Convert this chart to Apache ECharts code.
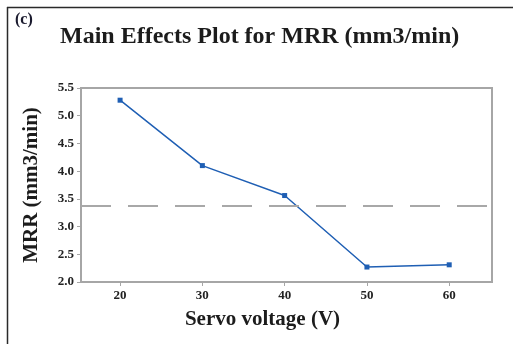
<!DOCTYPE html>
<html>
<head>
<meta charset="utf-8">
<script src="https://cdn.jsdelivr.net/npm/echarts@6/dist/echarts.min.js"></script>
<style>
  html, body { margin: 0; padding: 0; background: #ffffff; }
  #chart { width: 513px; height: 344px; }
</style>
</head>
<body>
<div id="chart"></div>
<script>
// Servo voltage levels and the mean MRR at each level
const voltages = [20, 30, 40, 50, 60];
const mrrMeans = [5.28, 4.10, 3.56, 2.27, 2.31];
// Overall reference (grand mean) line
const referenceMean = 3.38;
// Axis tick values
const xTicks = [20, 30, 40, 50, 60];

const serif = '"Liberation Serif", "DejaVu Serif", serif';
const chart = echarts.init(document.getElementById('chart'));

chart.setOption({
  animation: false,
  backgroundColor: '#ffffff',
  title: {
    text: 'Main Effects Plot for MRR (mm3/min)',
    left: 55,
    top: 20,
    textStyle: { fontFamily: serif, fontWeight: 'bold', fontSize: 24, color: '#1c1c1c' }
  },
  graphic: [
    { type: 'line', shape: { x1: 7, y1: 7.5, x2: 513, y2: 7.5 }, style: { stroke: '#2a2a2a', lineWidth: 1.5 } },
    { type: 'line', shape: { x1: 7.5, y1: 7, x2: 7.5, y2: 344 }, style: { stroke: '#2a2a2a', lineWidth: 1.5 } },
    { type: 'text', left: 15, top: 12, style: { text: '(c)', font: 'bold 16px ' + serif, fill: '#1a1a2e' } }
  ],
  grid: {
    left: 81, right: 21, top: 88, bottom: 62,
    show: true, borderColor: '#a6a6a6', borderWidth: 2, backgroundColor: '#ffffff'
  },
  xAxis: {
    type: 'value',
    min: 15.25,
    max: 65.2,
    name: 'Servo voltage (V)',
    nameLocation: 'middle',
    nameGap: 27,
    nameTextStyle: {
      fontFamily: serif, fontWeight: 'bold', fontSize: 21, color: '#1c1c1c',
      padding: [0, 48, 0, 0]
    },
    axisLine: { show: false },
    axisTick: { show: true, customValues: xTicks, length: 4, lineStyle: { color: '#a6a6a6', width: 1 } },
    axisLabel: { customValues: xTicks, margin: 7, fontFamily: serif, fontWeight: 'bold', fontSize: 13, color: '#222' },
    splitLine: { show: false }
  },
  yAxis: {
    type: 'value',
    min: 2,
    max: 5.5,
    interval: 0.5,
    name: 'MRR (mm3/min)',
    nameLocation: 'middle',
    nameGap: 39,
    nameTextStyle: { fontFamily: serif, fontWeight: 'bold', fontSize: 21, color: '#1c1c1c' },
    axisLine: { show: false },
    axisTick: { show: true, length: 4, lineStyle: { color: '#a6a6a6', width: 1 } },
    axisLabel: {
      margin: 7, fontFamily: serif, fontWeight: 'bold', fontSize: 13, color: '#222',
      formatter: v => v.toFixed(1)
    },
    splitLine: { show: false }
  },
  series: [{
    type: 'line',
    data: voltages.map((v, i) => [v, mrrMeans[i]]),
    symbol: 'rect',
    symbolSize: 5,
    lineStyle: { color: '#1f5fb4', width: 1.5 },
    itemStyle: { color: '#1f5fb4' },
    markLine: {
      silent: true,
      symbol: 'none',
      label: { show: false },
      lineStyle: { color: '#a8a8a8', width: 2, type: [30, 17] },
      data: [{ yAxis: referenceMean }]
    }
  }]
});
</script>
</body>
</html>
